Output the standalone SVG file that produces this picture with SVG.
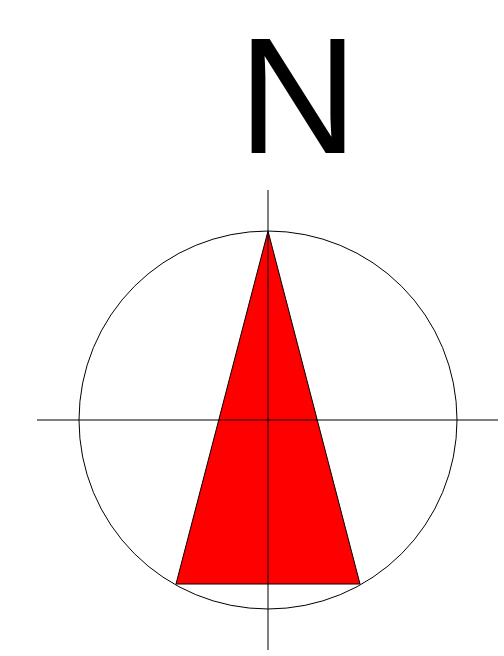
<svg xmlns="http://www.w3.org/2000/svg" width="504" height="656" viewBox="0 0 504 656">
<style>
.ln{stroke:#000;stroke-width:1;fill:none}
.lbl{font-family:"Liberation Sans",Arial,sans-serif;font-size:166px;fill:#000}
</style>
<rect width="504" height="656" fill="#fff"/>
<g id="label"><text class="lbl" x="298" y="153" text-anchor="middle">N</text></g>
<g id="circle"><circle class="ln" cx="268" cy="420" r="189"/></g>
<g id="arrow"><polygon points="268,231 360,584 176,584" fill="#f00" stroke="#000" stroke-width="1"/></g>
<g id="axes">
<line class="ln" x1="268" y1="190" x2="268" y2="650"/>
<line class="ln" x1="37" y1="420" x2="498" y2="420"/>
</g>
</svg>
